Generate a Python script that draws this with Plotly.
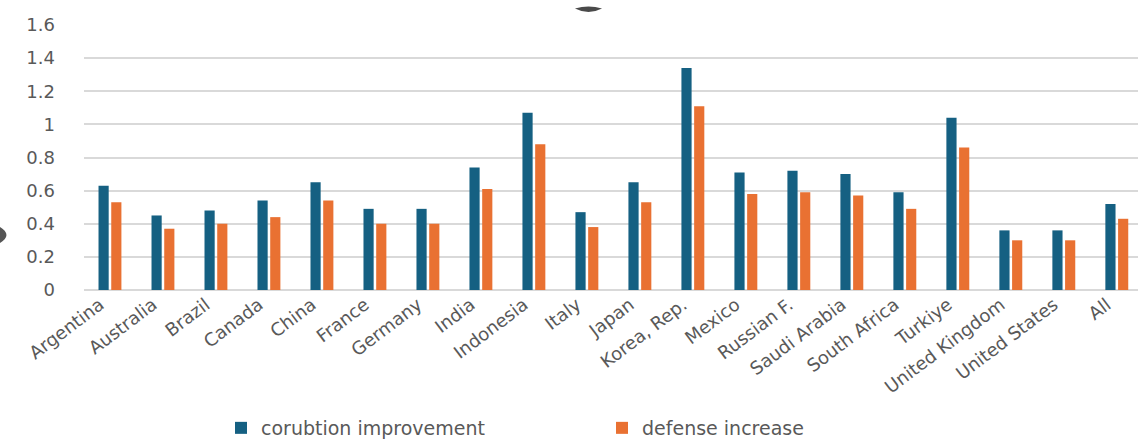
import plotly.graph_objects as go

countries = ["Argentina", "Australia", "Brazil", "Canada", "China", "France", "Germany",
             "India", "Indonesia", "Italy", "Japan", "Korea, Rep.", "Mexico", "Russian F.",
             "Saudi Arabia", "South Africa", "Turkiye", "United Kingdom", "United States", "All"]
corruption = [0.63, 0.45, 0.48, 0.54, 0.65, 0.49, 0.49, 0.74, 1.07, 0.47, 0.65, 1.34,
              0.71, 0.72, 0.70, 0.59, 1.04, 0.36, 0.36, 0.52]
defense = [0.53, 0.37, 0.40, 0.44, 0.54, 0.40, 0.40, 0.61, 0.88, 0.38, 0.53, 1.11,
           0.58, 0.59, 0.57, 0.49, 0.86, 0.30, 0.30, 0.43]
y_ticks = [0, 0.2, 0.4, 0.6, 0.8, 1, 1.2, 1.4, 1.6]
y_tick_labels = ["0", "0.2", "0.4", "0.6", "0.8", "1", "1.2", "1.4", "1.6"]

BLUE = "#156082"
ORANGE = "#E97132"
GRAY = "#595959"
FONT = "DejaVu Sans"

fig = go.Figure()
fig.add_trace(go.Bar(x=countries, y=corruption, name="corubtion improvement",
                     marker=dict(color=BLUE, line=dict(width=0))))
fig.add_trace(go.Bar(x=countries, y=defense, name="defense increase",
                     marker=dict(color=ORANGE, line=dict(width=0))))

L, T, W, H = 84, 24.5, 1054, 265.5


def px(x):
    return (x - L) / W


def py(y):
    return (T + H - y) / H


top_mark = "M {:.4f},{:.4f} Q {:.4f},{:.4f} {:.4f},{:.4f} Q {:.4f},{:.4f} {:.4f},{:.4f} Z".format(
    px(575), py(8), px(588.5), py(4), px(602), py(8), px(588.5), py(15), px(575), py(8))
left_mark = "M {:.4f},{:.4f} Q {:.4f},{:.4f} {:.4f},{:.4f} Z".format(
    px(0), py(227), px(13), py(235), px(0), py(243))

fig.update_layout(
    width=1138, height=443,
    margin=dict(l=84, r=0, t=24.5, b=153, autoexpand=False),
    paper_bgcolor="white", plot_bgcolor="white",
    barmode="group", bargap=0.52, bargroupgap=0.2,
    font=dict(family=FONT, color=GRAY),
    showlegend=True,
    legend=dict(orientation="h", x=0.13, xanchor="left",
                yref="container", y=(443 - 428) / 443, yanchor="middle",
                font=dict(size=19, color=GRAY, family=FONT),
                entrywidth=336, entrywidthmode="pixels", traceorder="normal",
                itemclick=False),
    xaxis=dict(range=[-0.49, 19.4], tickangle=-37, showgrid=False, showline=False,
               ticks="", automargin=False, ticklabelshift=-10,
               tickfont=dict(size=18, color=GRAY, family=FONT)),
    yaxis=dict(range=[0, 1.6], tickvals=y_ticks, ticktext=y_tick_labels,
               showgrid=True, gridcolor="#D9D9D9", gridwidth=1.5,
               zeroline=True, zerolinecolor="#D9D9D9", zerolinewidth=1.5,
               showline=False, ticks="", ticklabelstandoff=28, automargin=False,
               tickfont=dict(size=18, color=GRAY, family=FONT)),
    shapes=[
        dict(type="path", xref="paper", yref="paper", path=top_mark,
             fillcolor="#4a4a4a", line=dict(width=0)),
        dict(type="path", xref="paper", yref="paper", path=left_mark,
             fillcolor="#555555", line=dict(width=0)),
    ],
)

fig.write_html("out.html")
